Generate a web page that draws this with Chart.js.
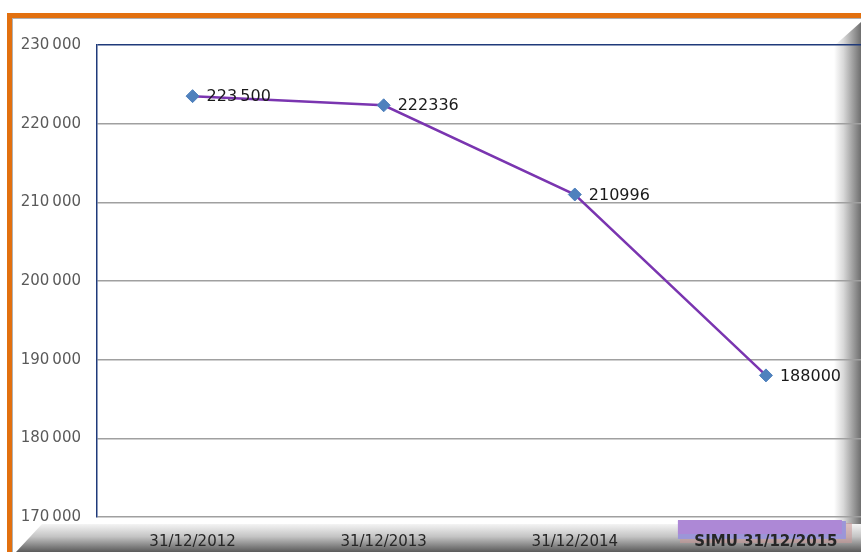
<!DOCTYPE html>
<html>
<head>
<meta charset="utf-8">
<script src="https://cdn.jsdelivr.net/npm/chart.js@4/dist/chart.umd.min.js"></script>
<style>
  html, body { margin: 0; padding: 0; background: #fff; overflow: hidden; }
  #wrap { width: 861px; height: 552px; overflow: hidden; }
</style>
</head>
<body>
<div id="wrap"><canvas id="c" width="869" height="552"></canvas></div>
<script>
const categories = ['31/12/2012', '31/12/2013', '31/12/2014', 'SIMU 31/12/2015'];
const values = [223500, 222336, 210996, 188000];
const pointLabels = ['223\u2009500', '222336', '210996', '188000'];
const yTickLabels = ['170\u2009000', '180\u2009000', '190\u2009000', '200\u2009000', '210\u2009000', '220\u2009000', '230\u2009000'];
const yMin = 170000, yMax = 230000, yStep = 10000;

const FONT = '"DejaVu Sans", Verdana, sans-serif';
const VIEW_W = 861;

const framePlugin = {
  id: 'frame',
  beforeDraw(chart) {
    const ctx = chart.ctx;
    const W = VIEW_W, H = chart.height;
    ctx.save();
    ctx.fillStyle = '#ffffff';
    ctx.fillRect(0, 0, chart.width, H);

    // right shaded band with bevel
    let g = ctx.createLinearGradient(834, 0, W, 0);
    g.addColorStop(0, 'rgba(255,255,255,1)');
    g.addColorStop(0.35, '#d8d8d8');
    g.addColorStop(1, '#6e6e6e');
    ctx.fillStyle = g;
    ctx.beginPath();
    ctx.moveTo(834, 46);
    ctx.lineTo(W, 22);
    ctx.lineTo(chart.width, 22);
    ctx.lineTo(chart.width, H);
    ctx.lineTo(834, H);
    ctx.closePath();
    ctx.fill();

    // bottom shaded band with bevel
    g = ctx.createLinearGradient(0, 524, 0, H);
    g.addColorStop(0, '#f4f4f4');
    g.addColorStop(0.45, '#c4c4c4');
    g.addColorStop(1, '#5a5a5a');
    ctx.fillStyle = g;
    ctx.beginPath();
    ctx.moveTo(42, 524);
    ctx.lineTo(chart.width, 524);
    ctx.lineTo(chart.width, H);
    ctx.lineTo(16, H);
    ctx.closePath();
    ctx.fill();

    // orange border (top and left)
    ctx.fillStyle = '#e2700f';
    ctx.fillRect(7, 13, chart.width, 5);
    ctx.fillRect(7, 13, 5, H - 13);
    ctx.fillStyle = '#b0b0b0';
    ctx.fillRect(12, 18, chart.width, 1);
    ctx.fillRect(12, 18, 1, H - 18);

    // purple highlight behind the last category label
    const xs = chart.scales.x;
    const cx = xs.getPixelForValue(3);
    ctx.fillStyle = 'rgba(200,150,150,0.55)';
    ctx.fillRect(cx - 86, 523, 172, 20);
    ctx.fillStyle = '#9c96d8';
    ctx.fillRect(cx - 88, 521, 168, 18);
    ctx.fillStyle = '#ad88d6';
    ctx.fillRect(cx - 88, 520, 164, 14);
    ctx.restore();
  }
};

const labelPlugin = {
  id: 'pointLabels',
  afterDatasetsDraw(chart) {
    const ctx = chart.ctx;
    const meta = chart.getDatasetMeta(0);
    ctx.save();
    ctx.font = '16px ' + FONT;
    ctx.fillStyle = '#1a1a1a';
    ctx.textAlign = 'left';
    ctx.textBaseline = 'middle';
    meta.data.forEach((pt, i) => {
      ctx.fillText(pointLabels[i], pt.x + 14, pt.y + 1);
    });
    ctx.restore();
  }
};

new Chart(document.getElementById('c'), {
  type: 'line',
  data: {
    labels: categories,
    datasets: [{
      data: values,
      borderColor: '#7a35b0',
      borderWidth: 2.5,
      tension: 0,
      pointStyle: 'rectRot',
      pointRadius: 6.5,
      pointBackgroundColor: '#4f81bd',
      pointBorderColor: '#4f81bd',
      pointBorderWidth: 1
    }]
  },
  options: {
    responsive: false,
    animation: false,
    devicePixelRatio: 1,
    layout: { padding: { top: 45, left: 0, right: 0, bottom: 0 } },
    plugins: { legend: { display: false }, tooltip: { enabled: false } },
    scales: {
      x: {
        offset: true,
        grid: { display: false },
        border: { display: false },
        afterFit(s) { s.height = 35; },
        ticks: {
          padding: 8,
          maxRotation: 0,
          autoSkip: false,
          color: '#262626',
          font: (c) => ({ family: FONT, size: 15, weight: c.index === 3 ? 'bold' : 'normal' })
        }
      },
      y: {
        min: yMin,
        max: yMax,
        afterFit(s) { s.width = 97; },
        grid: {
          drawTicks: false,
          color: (c) => c.tick && c.tick.value === yMax ? '#1f3a7a' : '#a0a0a0',
          lineWidth: 1.5
        },
        border: { display: true, color: '#1f3a7a', width: 1.5 },
        ticks: {
          stepSize: yStep,
          padding: 16,
          color: '#5a5a5a',
          font: { family: FONT, size: 15 },
          callback: (v, i) => yTickLabels[i]
        }
      }
    }
  },
  plugins: [framePlugin, labelPlugin]
});
</script>
</body>
</html>
